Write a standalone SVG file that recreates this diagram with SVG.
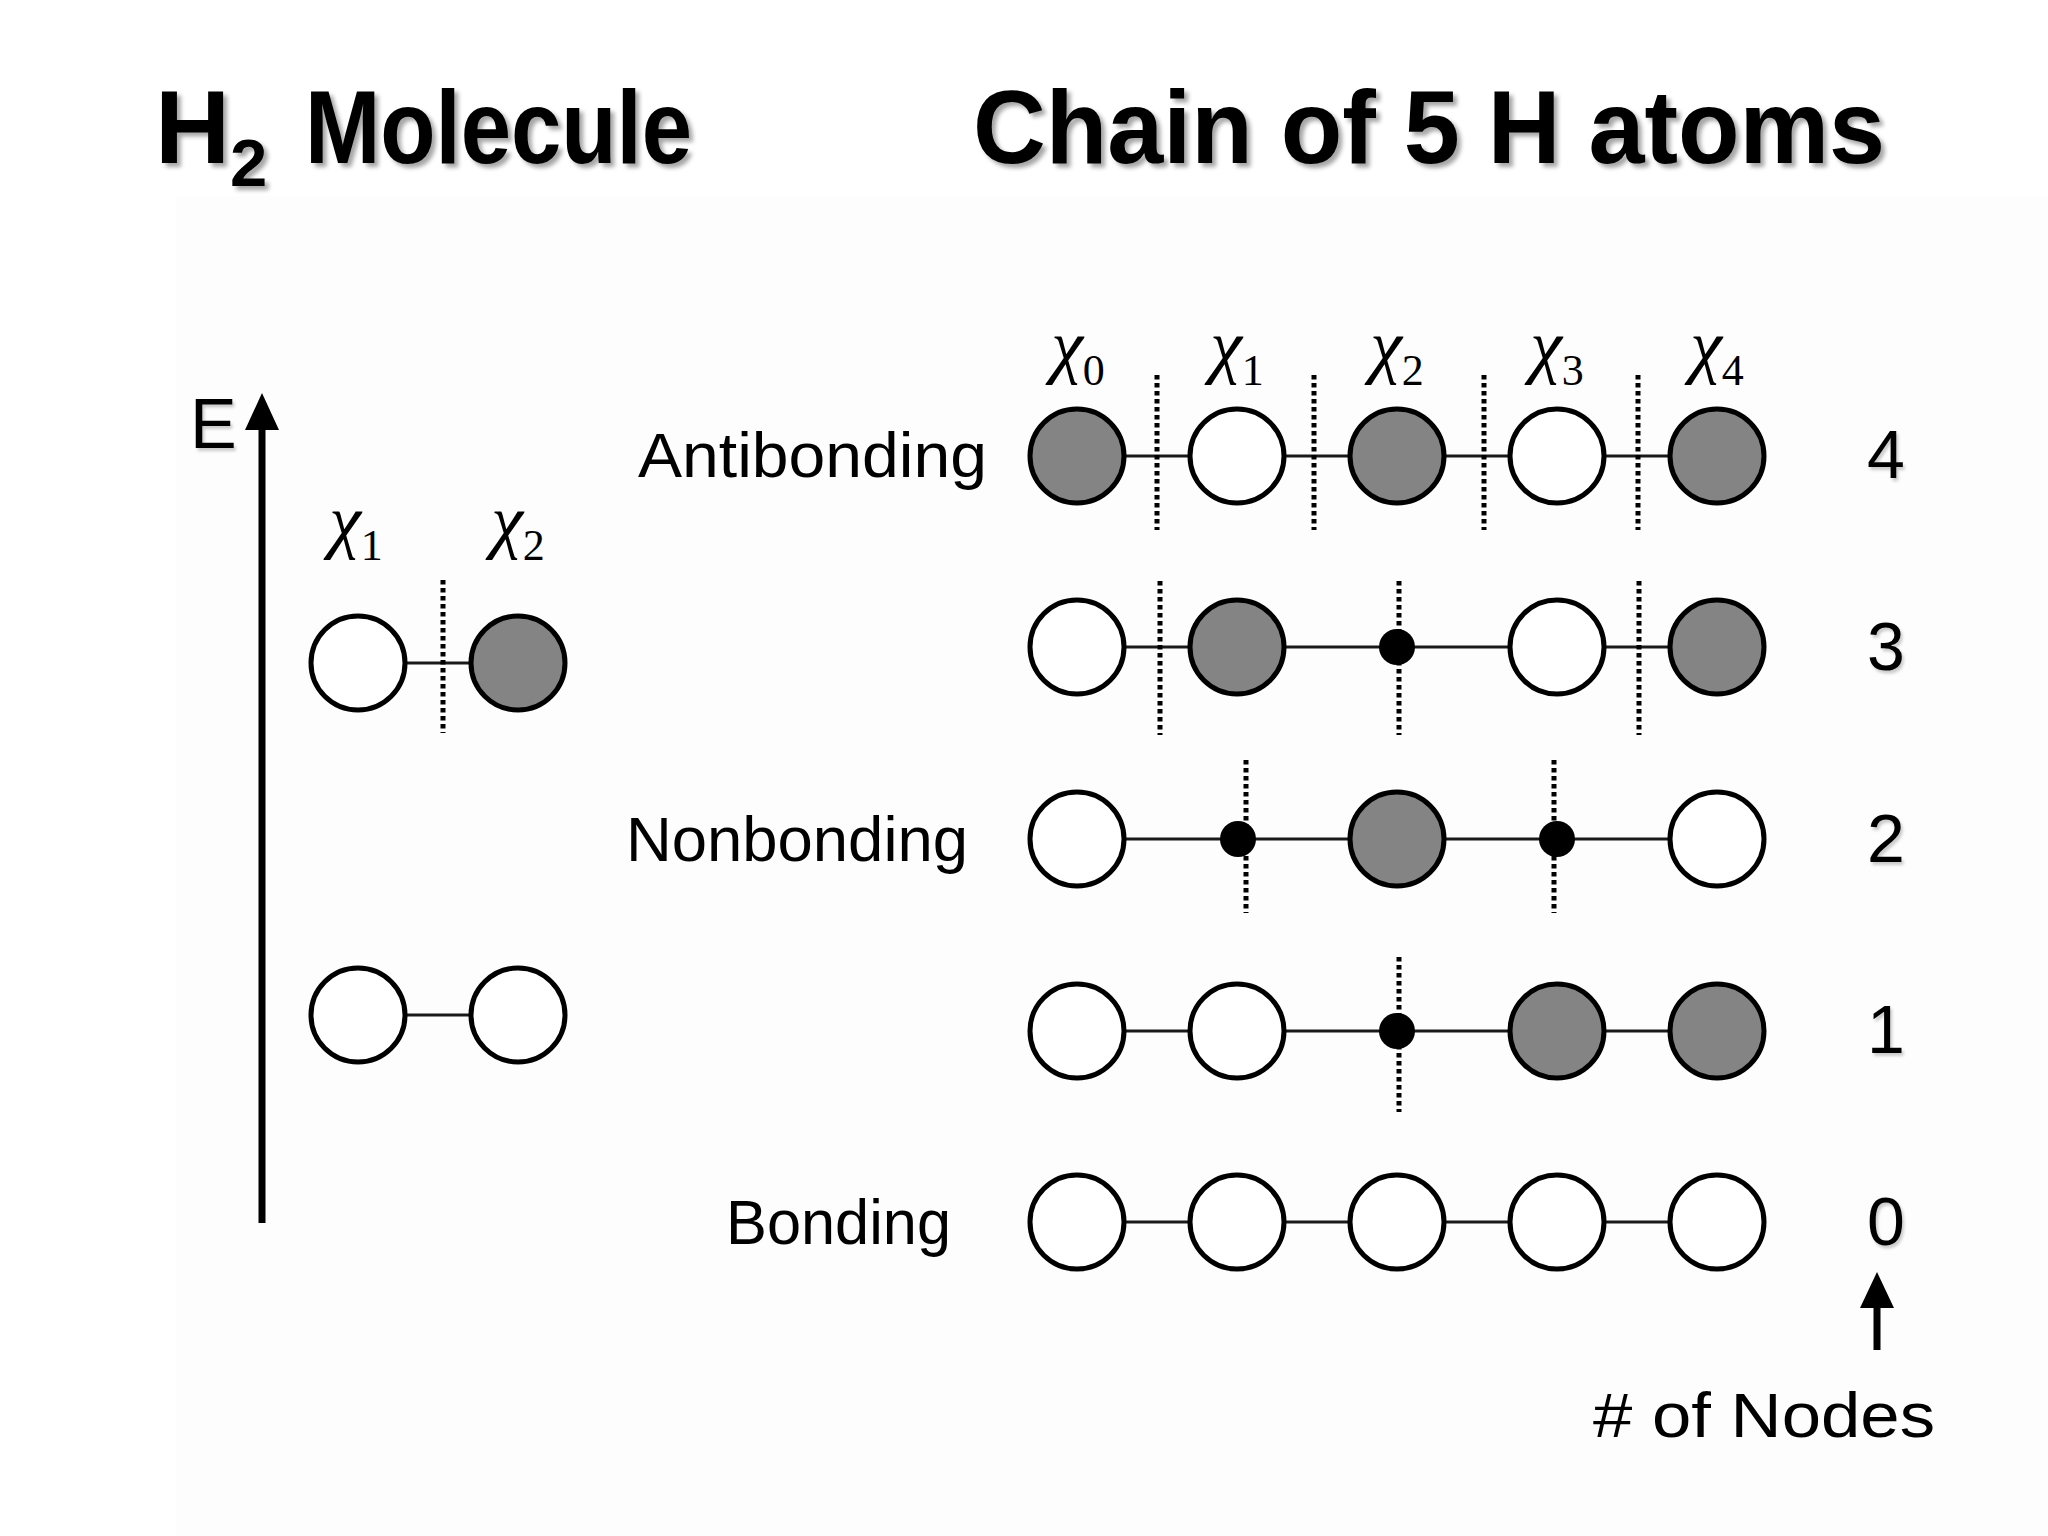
<svg xmlns="http://www.w3.org/2000/svg" width="2048" height="1536" viewBox="0 0 2048 1536">
  <style>
    .orb { stroke: #000; stroke-width: 5; }
    .pos { fill: #fff; }
    .neg { fill: #848484; }
    .dot { fill: #000; }
    .bond { stroke: #1a1a1a; stroke-width: 3; fill: none; }
    .node-line { stroke: #000; stroke-width: 5; stroke-dasharray: 4.5 3.5; fill: none; }
    .title { font-family: "Liberation Sans", "DejaVu Sans", sans-serif; font-weight: bold; font-size: 104px; fill: #000; }
    .lbl { font-family: "Liberation Sans", "DejaVu Sans", sans-serif; font-size: 63px; fill: #000; }
    .num { font-family: "Liberation Sans", "DejaVu Sans", sans-serif; font-size: 68px; fill: #000; text-anchor: middle; }
    .chi { font-family: "Liberation Serif", "DejaVu Serif", serif; font-size: 72px; font-style: italic; fill: #000; text-anchor: middle; }
    .sub { font-size: 44px; font-style: normal; }
    .axis { stroke: #000; stroke-width: 7; fill: none; }
  </style>
  <defs>
    <filter id="shadow" x="-5%" y="-20%" width="110%" height="150%">
      <feDropShadow dx="4" dy="4" stdDeviation="2" flood-color="#000" flood-opacity="0.35"/>
    </filter>
    <filter id="shadowLight" x="-20%" y="-20%" width="140%" height="140%">
      <feDropShadow dx="2" dy="3" stdDeviation="1.5" flood-color="#000" flood-opacity="0.2"/>
    </filter>
  </defs>

  <rect x="0" y="0" width="2048" height="1536" fill="#ffffff"/>
  <rect x="176" y="196" width="1872" height="1340" fill="#fdfdfd"/>

  <!-- Titles -->
  <g id="title-h2" filter="url(#shadow)">
    <text class="title" x="155" y="163">H<tspan font-size="67" dy="23">2</tspan><tspan x="305" dy="-23" textLength="387" lengthAdjust="spacingAndGlyphs">Molecule</tspan></text>
  </g>
  <g id="title-chain" filter="url(#shadow)">
    <text class="title" x="973" y="163" textLength="912" lengthAdjust="spacingAndGlyphs">Chain of 5 H atoms</text>
  </g>

  <!-- Energy axis -->
  <g id="energy-axis">
    <line class="axis" x1="262" y1="425" x2="262" y2="1223"/>
    <polygon points="262,393 245,430 279,430" fill="#000"/>
    <text x="190" y="448" font-family="Liberation Sans, DejaVu Sans, sans-serif" font-size="70" filter="url(#shadowLight)">E</text>
  </g>

  <!-- Connectors: bonds and nodal planes -->
  <g id="connectors">
    <!-- H2 bonds -->
    <line class="bond" x1="358" y1="663" x2="518" y2="663"/>
    <line class="bond" x1="358" y1="1015" x2="518" y2="1015"/>
    <!-- chain bonds -->
    <line class="bond" x1="1077" y1="456" x2="1717" y2="456"/>
    <line class="bond" x1="1077" y1="647" x2="1717" y2="647"/>
    <line class="bond" x1="1077" y1="839" x2="1717" y2="839"/>
    <line class="bond" x1="1077" y1="1031" x2="1717" y2="1031"/>
    <line class="bond" x1="1077" y1="1222" x2="1717" y2="1222"/>
    <!-- H2 node -->
    <line class="node-line" x1="443" y1="580" x2="443" y2="733"/>
    <!-- row 4 nodes -->
    <line class="node-line" x1="1157" y1="375" x2="1157" y2="530"/>
    <line class="node-line" x1="1314" y1="375" x2="1314" y2="530"/>
    <line class="node-line" x1="1484" y1="375" x2="1484" y2="530"/>
    <line class="node-line" x1="1638" y1="375" x2="1638" y2="530"/>
    <!-- row 3 nodes -->
    <line class="node-line" x1="1160" y1="581" x2="1160" y2="735"/>
    <line class="node-line" x1="1399" y1="581" x2="1399" y2="735"/>
    <line class="node-line" x1="1639" y1="581" x2="1639" y2="735"/>
    <!-- row 2 nodes -->
    <line class="node-line" x1="1246" y1="760" x2="1246" y2="913"/>
    <line class="node-line" x1="1554" y1="760" x2="1554" y2="913"/>
    <!-- row 1 node -->
    <line class="node-line" x1="1399" y1="957" x2="1399" y2="1112"/>
  </g>

  <!-- H2 molecule orbitals -->
  <g id="h2-antibonding">
    <circle class="orb pos" cx="358" cy="663" r="47"/>
    <circle class="orb neg" cx="518" cy="663" r="47"/>
  </g>
  <g id="h2-bonding">
    <circle class="orb pos" cx="358" cy="1015" r="47"/>
    <circle class="orb pos" cx="518" cy="1015" r="47"/>
  </g>
  <g id="h2-labels">
    <text class="chi" x="356" y="545">χ<tspan class="sub" dy="15">1</tspan></text>
    <text class="chi" x="518" y="545">χ<tspan class="sub" dy="15">2</tspan></text>
  </g>

  <!-- Chain labels -->
  <g id="chain-labels">
    <text class="chi" x="1078" y="370">χ<tspan class="sub" dy="15">0</tspan></text>
    <text class="chi" x="1237" y="370">χ<tspan class="sub" dy="15">1</tspan></text>
    <text class="chi" x="1397" y="370">χ<tspan class="sub" dy="15">2</tspan></text>
    <text class="chi" x="1557" y="370">χ<tspan class="sub" dy="15">3</tspan></text>
    <text class="chi" x="1717" y="370">χ<tspan class="sub" dy="15">4</tspan></text>
  </g>

  <!-- Row 4: antibonding -->
  <g id="mo-4">
    <circle class="orb neg" cx="1077" cy="456" r="47"/>
    <circle class="orb pos" cx="1237" cy="456" r="47"/>
    <circle class="orb neg" cx="1397" cy="456" r="47"/>
    <circle class="orb pos" cx="1557" cy="456" r="47"/>
    <circle class="orb neg" cx="1717" cy="456" r="47"/>
  </g>
  <!-- Row 3 -->
  <g id="mo-3">
    <circle class="orb pos" cx="1077" cy="647" r="47"/>
    <circle class="orb neg" cx="1237" cy="647" r="47"/>
    <circle class="dot" cx="1397" cy="647" r="18"/>
    <circle class="orb pos" cx="1557" cy="647" r="47"/>
    <circle class="orb neg" cx="1717" cy="647" r="47"/>
  </g>
  <!-- Row 2: nonbonding -->
  <g id="mo-2">
    <circle class="orb pos" cx="1077" cy="839" r="47"/>
    <circle class="dot" cx="1238" cy="839" r="18"/>
    <circle class="orb neg" cx="1397" cy="839" r="47"/>
    <circle class="dot" cx="1557" cy="839" r="18"/>
    <circle class="orb pos" cx="1717" cy="839" r="47"/>
  </g>
  <!-- Row 1 -->
  <g id="mo-1">
    <circle class="orb pos" cx="1077" cy="1031" r="47"/>
    <circle class="orb pos" cx="1237" cy="1031" r="47"/>
    <circle class="dot" cx="1397" cy="1031" r="18"/>
    <circle class="orb neg" cx="1557" cy="1031" r="47"/>
    <circle class="orb neg" cx="1717" cy="1031" r="47"/>
  </g>
  <!-- Row 0: bonding -->
  <g id="mo-0">
    <circle class="orb pos" cx="1077" cy="1222" r="47"/>
    <circle class="orb pos" cx="1237" cy="1222" r="47"/>
    <circle class="orb pos" cx="1397" cy="1222" r="47"/>
    <circle class="orb pos" cx="1557" cy="1222" r="47"/>
    <circle class="orb pos" cx="1717" cy="1222" r="47"/>
  </g>

  <!-- Row labels -->
  <g id="row-labels">
    <text class="lbl" x="638" y="477" textLength="349" lengthAdjust="spacingAndGlyphs">Antibonding</text>
    <text class="lbl" x="626" y="861" textLength="342" lengthAdjust="spacingAndGlyphs">Nonbonding</text>
    <text class="lbl" x="726" y="1244" textLength="225" lengthAdjust="spacingAndGlyphs">Bonding</text>
  </g>

  <!-- Node counts -->
  <g id="node-counts" filter="url(#shadowLight)">
    <text class="num" x="1886" y="478">4</text>
    <text class="num" x="1886" y="670">3</text>
    <text class="num" x="1886" y="862">2</text>
    <text class="num" x="1886" y="1053">1</text>
    <text class="num" x="1886" y="1245">0</text>
  </g>

  <!-- # of Nodes pointer -->
  <g id="nodes-pointer">
    <line class="axis" x1="1877" y1="1304" x2="1877" y2="1350"/>
    <polygon points="1877,1272 1860,1308 1894,1308" fill="#000"/>
    <text class="lbl" x="1593" y="1437" textLength="342" lengthAdjust="spacingAndGlyphs">#&#160;of Nodes</text>
  </g>
</svg>
